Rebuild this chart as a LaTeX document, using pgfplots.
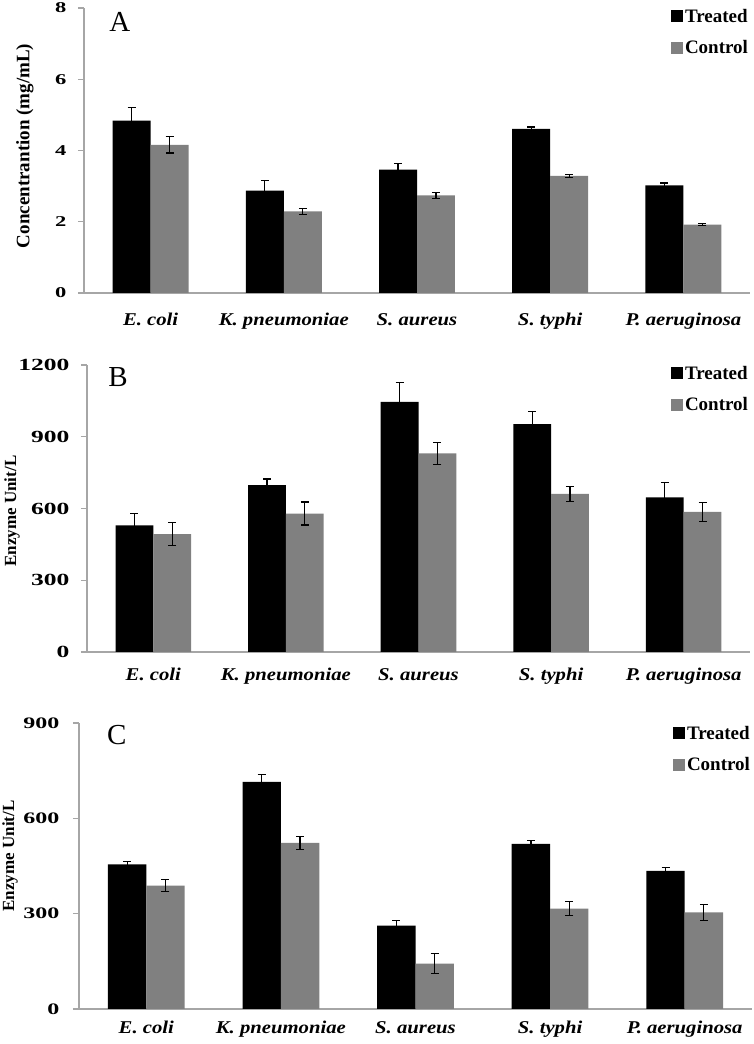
\documentclass[border=0pt]{standalone}
\usepackage{fontspec}
\setmainfont{Liberation Serif}
\newfontfamily\widefont{Liberation Serif}[FakeStretch=1.5]
\newfontfamily\catfont{Liberation Serif}[FakeStretch=1.15]
\usepackage{pgfplots}
\usepackage{pgfplotstable}
\pgfplotsset{compat=1.18}
\definecolor{ctrl}{HTML}{808080}
\definecolor{axgray}{HTML}{A6A6A6}

% panel A: concentration (mg/mL)
\pgfplotstableread{
x tr trerr co coerr
0 4.84 0.37 4.16 0.23
1 2.87 0.28 2.29 0.08
2 3.46 0.17 2.74 0.08
3 4.61 0.05 3.29 0.04
4 3.02 0.07 1.92 0.03
}\dataA
% panel B: enzyme unit/L
\pgfplotstableread{
x tr trerr co coerr
0 529 50 493 47
1 698 25 579 48
2 1046 81 830 47
3 953 52 661 32
4 647 62 586 40
}\dataB
% panel C: enzyme unit/L
\pgfplotstableread{
x tr trerr co coerr
0 455 10 388 19
1 715 23 523 20
2 262 16 143 31
3 520 10 316 23
4 435 11 304 26
}\dataC

\pgfplotsset{
  panel/.style={
    scale only axis, ybar=0pt, bar width=0.285,
    xmin=-0.5, xmax=4.5, ymin=0,
    axis x line*=bottom, axis y line*=left,
    axis line style={axgray, line width=1.2pt, -},
    tick align=outside,
    xtick={0,...,4},
    xticklabels={\textit{E. coli},\textit{K. pneumoniae},\textit{S. aureus},\textit{S. typhi},\textit{P. aeruginosa}},
    xticklabel style={font=\catfont\bfseries\fontsize{18}{18}\selectfont, anchor=base},
    xtick style={draw=none},
    minor xtick={-0.5,0.5,...,4.5},
    minor x tick style={axgray, line width=1.2pt},
    minor tick length=7pt,
    major tick length=6pt,
    ytick style={axgray, line width=1.2pt},
    /pgf/number format/assume math mode=true,
    /pgf/number format/1000 sep={},
    legend style={draw=none, fill=none, at={(1,1)}, anchor=north east,
      font=\bfseries\fontsize{19}{19}\selectfont, row sep=13pt,
      inner sep=0pt, outer sep=0pt},
    legend cell align=left,
    legend image code/.code={\fill[##1] (0pt,-6pt) rectangle (12pt,6pt);},
  },
  errs/.style={
    /pgfplots/error bars/y dir=both,
    /pgfplots/error bars/y explicit,
    /pgfplots/error bars/error bar style={black, line width=1.2pt},
    /pgfplots/error bars/error mark options={rotate=90, mark size=4pt, line width=1.2pt, black},
  },
  trbar/.style={fill=black, draw=none, errs},
  cobar/.style={fill=ctrl, draw=none, errs},
}

\begin{document}
\begin{tikzpicture}
\useasboundingbox (0,0) rectangle (754pt,1044pt);

% ---- A ----
\begin{axis}[panel, at={(84pt,751pt)}, anchor=south west,
  width=666pt, height=285pt, ymax=8, ytick={0,2,...,8},
  yticklabel style={font=\widefont\bfseries\fontsize{15}{15}\selectfont, xshift=-8pt},
  ylabel={Concentrantion (mg/mL)},
  ylabel style={font=\bfseries\fontsize{19}{19}\selectfont,
    at={(axis description cs:-0.0886,0.516)}, anchor=center},
  xticklabel style={yshift=-27pt},
  legend style={yshift=1pt}]
\addplot[trbar] table[x=x, y=tr, y error=trerr] {\dataA};
\addplot[cobar] table[x=x, y=co, y error=coerr] {\dataA};
\legend{Treated, Control}
\node[font=\fontsize{29}{29}\selectfont] at (rel axis cs:0.054,0.951) {A};
\end{axis}

% ---- B ----
\begin{axis}[panel, at={(87pt,392pt)}, anchor=south west,
  width=663pt, height=287pt, ymax=1200, ytick={0,300,...,1200},
  yticklabel style={font=\widefont\bfseries\fontsize{17}{17}\selectfont, xshift=-8pt},
  ylabel={Enzyme Unit/L},
  ylabel style={font=\bfseries\fontsize{17}{17}\selectfont,
    at={(axis description cs:-0.1131,0.491)}, anchor=center},
  xticklabel style={yshift=-23pt},
  legend style={yshift=1pt}]
\addplot[trbar] table[x=x, y=tr, y error=trerr] {\dataB};
\addplot[cobar] table[x=x, y=co, y error=coerr] {\dataB};
\legend{Treated, Control}
\node[font=\fontsize{29}{29}\selectfont] at (rel axis cs:0.047,0.958) {B};
\end{axis}

% ---- C ----
\begin{axis}[panel, at={(79pt,35pt)}, anchor=south west,
  width=673pt, height=286pt, ymax=900, ytick={0,300,...,900},
  yticklabel style={font=\widefont\bfseries\fontsize{16}{16}\selectfont, xshift=-10pt},
  ylabel={Enzyme Unit/L},
  ylabel style={font=\bfseries\fontsize{17}{17}\selectfont,
    at={(axis description cs:-0.1025,0.535)}, anchor=center},
  xticklabel style={yshift=-19pt},
  legend style={yshift=-1pt}]
\addplot[trbar] table[x=x, y=tr, y error=trerr] {\dataC};
\addplot[cobar] table[x=x, y=co, y error=coerr] {\dataC};
\legend{Treated, Control}
\node[font=\fontsize{29}{29}\selectfont] at (rel axis cs:0.056,0.958) {C};
\end{axis}
\end{tikzpicture}
\end{document}
